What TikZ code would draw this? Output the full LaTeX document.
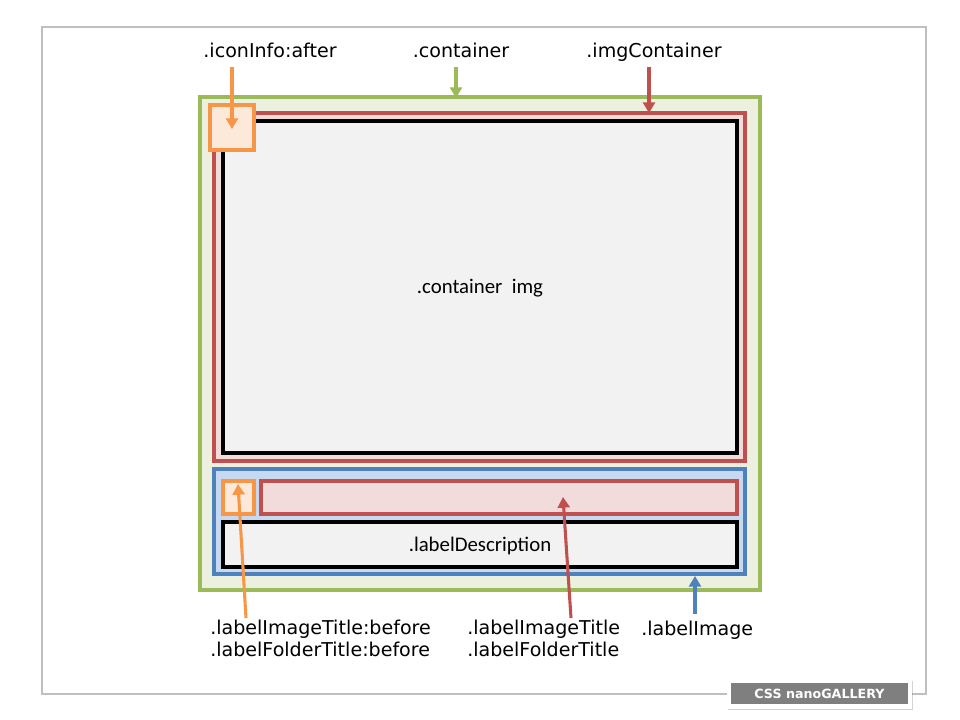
\documentclass[tikz,border=0pt]{standalone}
\usepackage{fontspec}
\setmainfont{DejaVu Sans}
\newfontfamily\boxfont{Carlito}
\usetikzlibrary{arrows.meta, shadows}

\definecolor{frameGray}{HTML}{BFBFBF}
\definecolor{greenLine}{HTML}{9BBB59}
\definecolor{greenFill}{HTML}{EBF1DE}
\definecolor{redLine}{HTML}{C0504D}
\definecolor{redFill}{HTML}{F2DCDB}
\definecolor{orangeLine}{HTML}{F79646}
\definecolor{orangeFill}{HTML}{FDE9D9}
\definecolor{blueLine}{HTML}{4F81BD}
\definecolor{blueFill}{HTML}{C6D9F1}
\definecolor{imgFill}{HTML}{F2F2F2}
\definecolor{logoGray}{HTML}{7F7F7F}

\tikzset{
	box/.style={line width=2.4pt},
	imgbox/.style={box, draw=black, fill=imgFill, line width=2.4pt},
	pointer/.style={line width=2.3pt, -{Triangle[width=9pt, length=8pt]}},
	cssname/.style={font=\fontsize{14.3}{15.8}\selectfont, inner sep=0pt},
	boxtext/.style={font=\boxfont\fontsize{15.6}{18}\selectfont, inner sep=0pt}
}

\begin{document}
\begin{tikzpicture}[x=0.75pt, y=-0.75pt]
	\useasboundingbox (0,0) rectangle (960,720);

	% --- outer frame
	\draw[frameGray, line width=1.7pt] (42,27) rectangle (926,694);

	% --- the nested boxes
	\filldraw[box, draw=greenLine, fill=greenFill] (200,97) rectangle (760,590);
	\filldraw[box, draw=redLine, fill=redFill] (214,113) rectangle (745,461);
	\filldraw[imgbox] (223,121) rectangle (737,453);
	\filldraw[box, draw=orangeLine, fill=orangeFill] (210,105) rectangle (254,150);

	\filldraw[box, draw=blueLine, fill=blueFill] (214,469) rectangle (745,574);
	\filldraw[box, draw=orangeLine, fill=orangeFill] (223,481) rectangle (254,514);
	\filldraw[box, draw=redLine, fill=redFill] (261,481) rectangle (737,514);
	\filldraw[imgbox] (223,522) rectangle (737,567);

	\node[boxtext, anchor=base] (img) at (480,293) {.container\ \ img};
	\node[boxtext, anchor=base] (desc) at (480,551) {.labelDescription};

	% --- labels above
	\node[cssname, anchor=base] (iconInfo) at (270,58) {.iconInfo:after};
	\node[cssname, anchor=base] (container) at (461,58) {.container};
	\node[cssname, anchor=base] (imgContainer) at (654,58) {.imgContainer};

	% --- labels below (base = last line)
	\node[cssname, anchor=base west, align=left] (titleBefore) at (210,656)
		{.labelImageTitle:before\\.labelFolderTitle:before};
	\node[cssname, anchor=base west, align=left] (title) at (467,656)
		{.labelImageTitle\\.labelFolderTitle};
	\node[cssname, anchor=base west] (labelImage) at (641,635) {.labelImage};

	% --- arrow ends
	\coordinate (iconStart) at (232,67);
	\coordinate (iconTip) at (232,129);
	\coordinate (containerStart) at (456,67);
	\coordinate (containerTip) at (456,98);
	\coordinate (imgContainerStart) at (649,67);
	\coordinate (imgContainerTip) at (649,113);
	\coordinate (titleBeforeStart) at (246,618);
	\coordinate (titleBeforeTip) at (238,484);
	\coordinate (titleStart) at (571,618);
	\coordinate (titleTip) at (563,497);
	\coordinate (labelImageStart) at (695,614);
	\coordinate (labelImageTip) at (695,576);

	\foreach \name/\col in {
		icon/orangeLine,
		container/greenLine,
		imgContainer/redLine,
		titleBefore/orangeLine,
		title/redLine,
		labelImage/blueLine}
	\draw[pointer, \col] (\name Start) -- (\name Tip);

	% --- logo
	\node[fill=white, drop shadow={shadow xshift=0.8pt, shadow yshift=-1.2pt, opacity=0.35},
		minimum width=139pt, minimum height=22pt, inner sep=0pt] (logoBack) at (819.5,694) {};
	\node[fill=logoGray, text=white, font=\bfseries\fontsize{9.5}{11}\selectfont,
		minimum width=133pt, minimum height=16pt, inner sep=0pt] (logo) at (819.5,693.5) {CSS nanoGALLERY};
\end{tikzpicture}
\end{document}
